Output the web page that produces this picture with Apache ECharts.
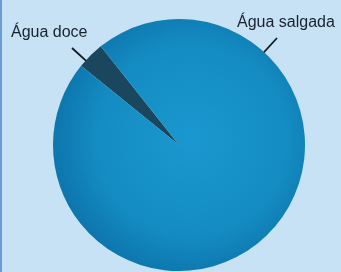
<!DOCTYPE html>
<html>
<head>
<meta charset="utf-8">
<script src="https://cdn.jsdelivr.net/npm/echarts@6/dist/echarts.min.js"></script>
<style>
  html, body { margin: 0; padding: 0; }
  #wrap { width: 341px; height: 272px; box-sizing: border-box; border-left: 2px solid #6b9bd0; background: #c7e1f5; }
  #main { width: 339px; height: 272px; }
</style>
</head>
<body>
<div id="wrap"><div id="main"></div></div>
<script>
var categories = ['Água doce', 'Água salgada'];
var values = [3.5, 96.5];

// pie geometry and where each label sits (top-left of text, start of leader line)
var cx = 177, cy = 145, R = 126;
var labelSpots = [
  { x: 9, y: 25, lineX: 70, lineY: 48 },
  { x: 235, y: 15, lineX: 275, lineY: 38 }
];

var sliceColors = [
  '#1a465e',
  {
    type: 'radial', x: 0.55, y: 0.48, r: 0.58,
    colorStops: [
      { offset: 0, color: '#1a98cf' },
      { offset: 0.65, color: '#148cc3' },
      { offset: 1, color: '#0b72a9' }
    ]
  }
];

var myChart = echarts.init(document.getElementById('main'));

var option = {
  animation: false,
  series: [
    {
      type: 'pie',
      center: [cx, cy],
      radius: R,
      startAngle: 141,
      clockwise: true,
      silent: true,
      data: categories.map(function (name, i) {
        return { name: name, value: values[i], itemStyle: { color: sliceColors[i] } };
      }),
      label: {
        show: true,
        position: 'outside',
        formatter: '{b}',
        overflow: 'none',
        fontFamily: 'Liberation Sans',
        fontSize: 16,
        color: '#17232d'
      },
      labelLine: {
        show: true,
        length: 10,
        length2: 0,
        lineStyle: { color: '#111d26', width: 1.8 }
      },
      labelLayout: function (params) {
        var s = labelSpots[params.dataIndex];
        var dx = cx - s.lineX, dy = cy - s.lineY;
        var d = Math.sqrt(dx * dx + dy * dy);
        var inner = [s.lineX + dx / d * 31, s.lineY + dy / d * 31];
        return {
          x: s.x,
          y: s.y,
          align: 'left',
          verticalAlign: 'top',
          labelLinePoints: [inner, [s.lineX, s.lineY], [s.lineX, s.lineY]]
        };
      }
    }
  ]
};

myChart.setOption(option);
</script>
</body>
</html>
